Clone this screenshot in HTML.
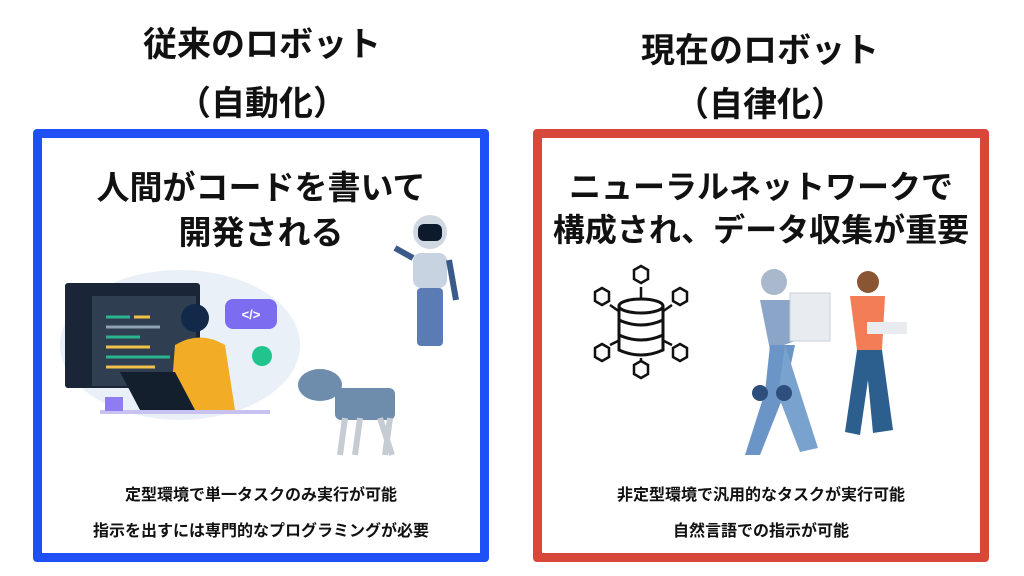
<!DOCTYPE html>
<html><head><meta charset="utf-8"><style>
body{margin:0;width:1024px;height:576px;background:#fff;position:relative;overflow:hidden;font-family:"Liberation Sans","Noto Sans CJK JP",sans-serif;font-weight:bold;color:#111}
.t{position:absolute;text-align:center;white-space:nowrap}
.box{position:absolute;top:129px;height:415px;border:9px solid;border-radius:4px;width:438px}
</style></head><body>
<div class="t" style="left:62px;width:400px;top:17px;font-size:34px">従来のロボット</div>
<div class="t" style="left:62px;width:400px;top:76px;font-size:34px">（自動化）</div>
<div class="t" style="left:560px;width:400px;top:23px;font-size:34px">現在のロボット</div>
<div class="t" style="left:560px;width:400px;top:77px;font-size:34px">（自律化）</div>
<div class="box" style="left:33px;border-color:#1f50f6"></div>
<div class="box" style="left:533px;border-color:#d9473a"></div>
<div class="t" style="left:42px;width:438px;top:161px;font-size:33px">人間がコードを書いて</div>
<div class="t" style="left:42px;width:438px;top:206px;font-size:33px">開発される</div>
<div class="t" style="left:542px;width:438px;top:162px;font-size:32px">ニューラルネットワークで</div>
<div class="t" style="left:542px;width:438px;top:205px;font-size:32px">構成され、データ収集が重要</div>
<div class="t" style="left:42px;width:438px;top:481px;font-size:16px">定型環境で単一タスクのみ実行が可能</div>
<div class="t" style="left:42px;width:438px;top:517px;font-size:16px">指示を出すには専門的なプログラミングが必要</div>
<div class="t" style="left:542px;width:438px;top:481px;font-size:16px">非定型環境で汎用的なタスクが実行可能</div>
<div class="t" style="left:542px;width:438px;top:517px;font-size:16px">自然言語での指示が可能</div>
<svg style="position:absolute;left:0;top:0" width="1024" height="576">
<ellipse cx="180" cy="345" rx="120" ry="75" fill="#e9f0f8"/>
<rect x="65" y="283" width="135" height="105" rx="3" fill="#1a2637"/>
<rect x="92" y="296" width="104" height="90" fill="#2f3e50"/>
<g stroke-width="3">
<line x1="106" y1="317" x2="130" y2="317" stroke="#2bb58f"/><line x1="134" y1="317" x2="150" y2="317" stroke="#f1c24b"/><line x1="106" y1="327" x2="160" y2="327" stroke="#8fa3b5"/>
<line x1="106" y1="337" x2="140" y2="337" stroke="#2bb58f"/><line x1="106" y1="347" x2="150" y2="347" stroke="#f1c24b"/><line x1="106" y1="357" x2="170" y2="357" stroke="#2bb58f"/><line x1="106" y1="367" x2="155" y2="367" stroke="#f1c24b"/>
</g>
<rect x="225" y="299" width="52" height="30" rx="8" fill="#7c6cf0"/><text x="251" y="319" font-size="13" fill="#fff" text-anchor="middle" font-family="Liberation Sans">&lt;/&gt;</text>
<circle cx="262" cy="356" r="10" fill="#21c48d"/>
<circle cx="195" cy="318" r="14" fill="#13294a"/>
<path d="M175 345 Q200 330 225 345 L235 410 L170 410 Z" fill="#f2ac26"/>
<path d="M120 372 L175 372 L195 410 L140 410 Z" fill="#141f2e"/>
<rect x="100" y="410" width="170" height="4" fill="#c8c2f0"/>
<rect x="105" y="397" width="18" height="14" fill="#8f7cf0"/>
<circle cx="430" cy="232" r="17" fill="#d0d8e2"/><rect x="418" y="224" width="24" height="17" rx="6" fill="#0d1a2c"/>
<rect x="413" y="253" width="34" height="35" rx="8" fill="#c7d3e0"/>
<rect x="417" y="288" width="26" height="58" rx="4" fill="#5a7bb3"/>
<line x1="413" y1="258" x2="395" y2="248" stroke="#3a5a8a" stroke-width="6"/><line x1="449" y1="260" x2="456" y2="300" stroke="#3a5a8a" stroke-width="6"/>
<ellipse cx="320" cy="385" rx="22" ry="16" fill="#6e8cac"/>
<rect x="335" y="388" width="60" height="32" rx="6" fill="#6e8cac"/>
<g stroke="#c6ccd4" stroke-width="6"><line x1="345" y1="418" x2="340" y2="455"/><line x1="360" y1="418" x2="355" y2="455"/><line x1="380" y1="418" x2="392" y2="455"/><line x1="390" y1="418" x2="385" y2="455"/></g>
<g fill="none" stroke="#111" stroke-width="3">
<ellipse cx="641" cy="306" rx="22" ry="7"/><path d="M619 306 V350 Q641 360 663 350 V306 M619 320 Q641 330 663 320 M619 335 Q641 345 663 335"/>
<g stroke-width="2.5">
<path d="M634 270 l7-4 l7 4 v9 l-7 4 l-7-4z"/><path d="M634 365 l7-4 l7 4 v9 l-7 4 l-7-4z"/>
<path d="M595 292 l7-4 l7 4 v9 l-7 4 l-7-4z"/><path d="M673 292 l7-4 l7 4 v9 l-7 4 l-7-4z"/>
<path d="M595 348 l7-4 l7 4 v9 l-7 4 l-7-4z"/><path d="M673 348 l7-4 l7 4 v9 l-7 4 l-7-4z"/>
<line x1="641" y1="287" x2="641" y2="299"/><line x1="641" y1="358" x2="641" y2="361"/>
<line x1="610" y1="305" x2="620" y2="312"/><line x1="672" y1="305" x2="662" y2="312"/>
<line x1="610" y1="345" x2="620" y2="340"/><line x1="672" y1="345" x2="662" y2="340"/>
</g></g>
<circle cx="774" cy="282" r="13" fill="#a9b8cc"/>
<path d="M760 300 L790 300 L798 340 L770 350 Z" fill="#8aa5c8"/>
<path d="M770 345 L795 345 L785 392 L760 455 L745 455 L765 392 Z" fill="#6b95c6"/>
<path d="M785 345 L800 392 L818 448 L800 452 L778 395 Z" fill="#7aa2cf"/>
<circle cx="760" cy="393" r="8" fill="#2e4e7c"/><circle cx="784" cy="393" r="8" fill="#2e4e7c"/>
<rect x="790" y="293" width="40" height="48" fill="#e8ecf1" stroke="#c9d0da"/>
<circle cx="868" cy="282" r="11" fill="#8a5533"/>
<path d="M850 296 L885 296 L882 350 L857 350 Z" fill="#f37d57"/>
<path d="M857 350 L882 350 L893 430 L873 433 L868 380 L860 435 L845 432 Z" fill="#2c5f8e"/>
<rect x="867" y="322" width="40" height="12" fill="#e8ecf1"/>
</svg>
</body></html>
